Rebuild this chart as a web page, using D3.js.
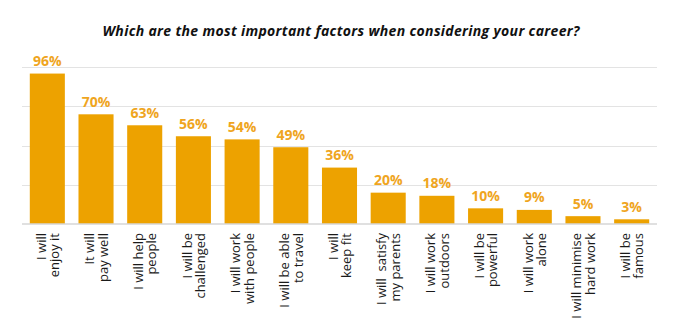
<!DOCTYPE html>
<html>
<head>
<meta charset="utf-8">
<script src="https://cdn.jsdelivr.net/npm/d3@7/dist/d3.min.js"></script>
<style>
  html, body { margin: 0; padding: 0; background: #fff; }
  svg { display: block; }
</style>
</head>
<body>
<svg id="chart" width="682" height="324"></svg>
<script>
// Survey answers: each factor is drawn as two lines of rotated text
const factors = [
  ["I will", "enjoy it"],
  ["It will", "pay well"],
  ["I will help", "people"],
  ["I will be", "challenged"],
  ["I will work", "with people"],
  ["I will be able", "to travel"],
  ["I will", "keep fit"],
  ["I will  satisfy", "my parents"],
  ["I will work", "outdoors"],
  ["I will be", "powerful"],
  ["I will work", "alone"],
  ["I will minimise", "hard work"],
  ["I will be", "famous"]
];
const shares = [96, 70, 63, 56, 54, 49, 36, 20, 18, 10, 9, 5, 3];
const gridTicks = [0, 25, 50, 75, 100];
const title = "Which are the most important factors when considering your career?";

const barColor = "#EDA200";
const labelColor = "#EFA51E";

const svg = d3.select("#chart");
const ids = factors.map((_, i) => i);

const x = d3.scaleBand()
  .domain(ids)
  .range([22, 657])
  .paddingInner(0.28)
  .paddingOuter(0.16);

const y = d3.scaleLinear()
  .domain([0, 100])
  .range([224, 67.3]);

// title
svg.append("text")
  .attr("x", 341)
  .attr("y", 36)
  .attr("text-anchor", "middle")
  .attr("textLength", 477)
  .attr("lengthAdjust", "spacing")
  .style("font-family", "'Open Sans', sans-serif")
  .style("font-weight", "700")
  .style("font-style", "italic")
  .style("font-size", "14px")
  .style("fill", "#111")
  .text(title);

// horizontal gridlines
svg.append("g")
  .selectAll("line")
  .data(gridTicks.filter(d => d > 0))
  .join("line")
  .attr("x1", x.range()[0])
  .attr("x2", x.range()[1])
  .attr("y1", d => Math.round(y(d)) + 0.5)
  .attr("y2", d => Math.round(y(d)) + 0.5)
  .attr("stroke", "#e3e3e3")
  .attr("stroke-width", 1);

// bars
svg.append("g")
  .selectAll("rect")
  .data(shares)
  .join("rect")
  .attr("x", (d, i) => x(i))
  .attr("width", x.bandwidth())
  .attr("y", d => y(d))
  .attr("height", d => y(0) - y(d))
  .attr("fill", barColor);

// baseline
svg.append("line")
  .attr("x1", x.range()[0])
  .attr("x2", x.range()[1])
  .attr("y1", y(0))
  .attr("y2", y(0))
  .attr("stroke", "#d6d6d6")
  .attr("stroke-width", 1.5);

// value labels
svg.append("g")
  .selectAll("text")
  .data(shares)
  .join("text")
  .attr("x", (d, i) => x(i) + x.bandwidth() / 2)
  .attr("y", d => y(d) - 7.5)
  .attr("text-anchor", "middle")
  .style("font-family", "'Open Sans', sans-serif")
  .style("font-weight", "700")
  .style("font-size", "14px")
  .style("fill", labelColor)
  .text(d => d + "%");

// rotated category labels
const lineGap = 13.5;
const labels = svg.append("g")
  .selectAll("text")
  .data(factors)
  .join("text")
  .attr("transform", (d, i) =>
    `translate(${x(i) + x.bandwidth() / 2},233) rotate(-90)`)
  .attr("text-anchor", "end")
  .style("font-family", "'Open Sans', sans-serif")
  .style("font-size", "13px")
  .style("fill", "#1a1a1a")
  .style("white-space", "pre");

labels.selectAll("tspan")
  .data(d => d.map((t, k) => ({ t, k, n: d.length })))
  .join("tspan")
  .attr("x", 0)
  .attr("y", d => (d.k - (d.n - 1) / 2) * lineGap)
  .attr("dominant-baseline", "central")
  .text(d => d.t);
</script>
</body>
</html>
